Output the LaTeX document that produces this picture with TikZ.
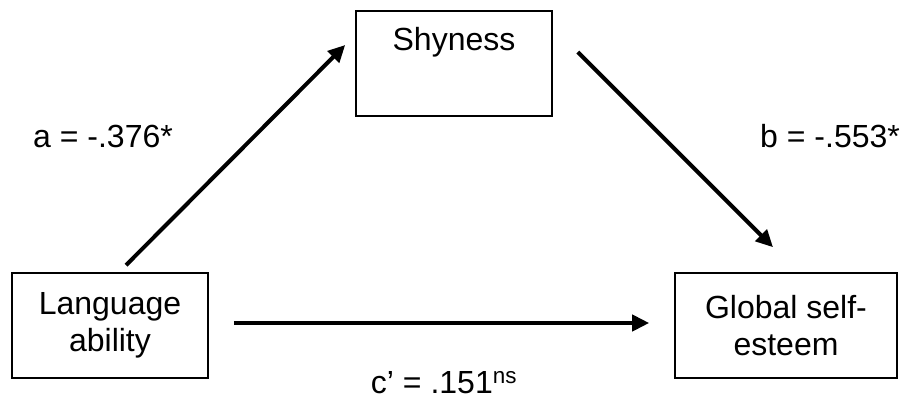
\documentclass[tikz,border=0pt]{standalone}
\usepackage{fontspec}
\setmainfont{Liberation Sans}
\usetikzlibrary{arrows.meta,calc}
\begin{document}
\begin{tikzpicture}[x=1pt,y=-1pt,
  box/.style={draw,line width=1.6pt,minimum width=196pt,minimum height=105pt,inner sep=0pt,align=center,font=\fontsize{32}{37}\selectfont},
  lbl/.style={font=\fontsize{32}{37}\selectfont,inner sep=0pt,anchor=base},
  conn/.style={line width=4pt,-{Triangle[length=17pt,width=16pt]}}]
\useasboundingbox (0,0) rectangle (904,407);
% boxes
\node[box] (shy) at (454,63.5) {};
\node[lbl] (shyt) at (454,50) {Shyness};
\node[box] (lang) at (110,325.5) {Language\\ability};
\node[box,minimum width=222pt] (glob) at (786,325.5) {Global self-\\esteem};
% connector end points
\coordinate (a1) at ($(lang.north)+(16,-7)$);
\coordinate (a2) at ($(shy.west)+(-10,-18.5)$);
\coordinate (b1) at ($(shy.east)+(25,-11.5)$);
\coordinate (b2) at ($(glob.north)+(-13,-25)$);
\coordinate (c1) at ($(lang.east)+(25,-2.5)$);
\coordinate (c2) at ($(glob.west)+(-25,-2.5)$);
\draw[conn] (a1) -- (a2);
\draw[conn] (b1) -- (b2);
\draw[conn] (c1) -- (c2);
% labels
\node[lbl] (la) at (103,147) {a = -.376*};
\node[lbl,anchor=base west] (lb) at (760,147) {b = -.553*};
\node[lbl] (lc) at (444,393) {c’ = .151\textsuperscript{ns}};
\end{tikzpicture}
\end{document}
